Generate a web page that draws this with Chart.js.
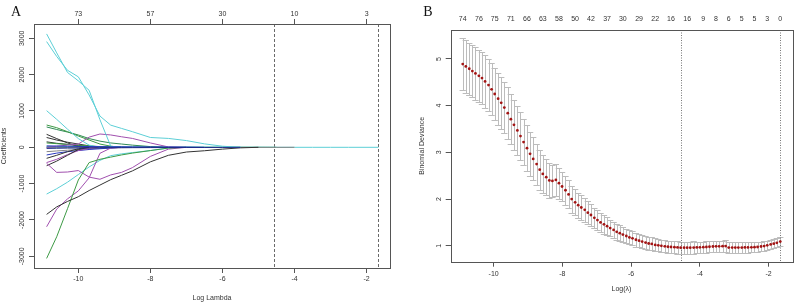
<!DOCTYPE html>
<html>
<head>
<meta charset="utf-8">
<script src="https://cdn.jsdelivr.net/npm/chart.js@4.4.1/dist/chart.umd.min.js"></script>
<style>
    html, body { margin: 0; padding: 0; background: #fff; }
    #wrapA { position: absolute; left: 0; top: 0; width: 400px; height: 307px; }
    #wrapB { position: absolute; left: 400px; top: 0; width: 398px; height: 307px; }
</style>
</head>
<body>
<div id="wrapA"><canvas id="coefChart" width="400" height="307"></canvas></div>
<div id="wrapB"><canvas id="cvChart" width="398" height="307"></canvas></div>
<script>
// ---- panel A: lasso coefficient paths ----
const logLambdaA = [-10.88, -10.6, -10.3, -10.0, -9.7, -9.4, -9.1, -8.8, -8.5, -8.0, -7.5, -7.0, -6.5, -6.0, -5.5, -5.0, -4.5, -4.0, -3.5, -3.0, -2.5, -1.67];
const xTicksA = [-10, -8, -6, -4, -2];
const dfTopA = ['73', '57', '30', '10', '3'];
const yTicksA = [-3000, -2000, -1000, 0, 1000, 2000, 3000];
const cutLinesA = [-4.56, -1.67];

// each path stops once the coefficient has shrunk to zero
const blackNeg1 = [-1846, -1640, -1490, -1360, -1190, -1040, -890, -770, -650, -400, -220, -130, -95, -50, -15, 0];
const greenNeg1 = [-3058, -2463, -1690, -900, -420, -330, -270, -210, -160, -90, -20, 0];
const purpleNeg1 = [-2187, -1700, -1420, -1200, -840, -165, -20, 0];
const purpleNeg2 = [-441, -690, -680, -640, -820, -880, -760, -690, -560, -250, -50, 0];
const cyanNeg1 = [-1287, -1140, -960, -750, -540, -360, -230, -180, -145, -90, -20, 0];
const cyanPos1 = [3121, 2600, 2060, 1830, 1570, 760, 30, 0];
const cyanPos2 = [2910, 2500, 2120, 1940, 1440, 860, 610, 520, 430, 270, 245, 185, 95, 30, 0];
const cyanPos3 = [1008, 770, 500, 240, 60, 0];
const purplePos1 = [0, 30, 60, 90, 280, 366, 340, 290, 245, 120, 10, 0];
const greenPos1 = [614, 540, 430, 310, 200, 90, 30, 0];
const greenPos2 = [560, 490, 420, 340, 240, 170, 120, 90, 60, 20, 0];
const greenPos3 = [120, 100, 80, 60, 40, 20, 10, 0];
const blackPos1 = [357, 240, 120, 20, 0];
const blackPos2 = [270, 200, 140, 90, 40, 0];
const blackPos3 = [150, 110, 80, 50, 25, 10, 0];
const blackNeg2 = [-506, -380, -220, -60, 0];
const purpleNeg3 = [-420, -330, -200, -90, -30, 0];
const blackNeg3 = [-303, -220, -120, -40, 0];
const blueNeg1 = [-211, -160, -120, -90, -60, -40, -20, 0];
const grayNeg1 = [-120, -100, -80, -60, -40, -25, -15, -10, -5, 0];
const blueBand1 = [-30, -25, -20, -20, -15, -15, -10, -10, -10, -8, -6, -5, -4, -3, 0];
const blueBand2 = [40, 35, 30, 25, 20, 20, 15, 15, 12, 10, 8, 6, 0];
const grayBand = [-10, -10, -8, -8, -8, -6, -6, -6, -5, -5, -4, -4, -3, -3, -2, -2, -1, 0];
const tealBand = [20, 18, 16, 15, 14, 12, 10, 10, 8, 8, 6, 6, 5, 5, 4, 3, 0];
const cyanBand = [0, 0, 0, 0, 0, 0, 0, 0, 0, 0, 0, 0, 0, 0, 0, 0, 0, 0, 0, 0, 0, 0];

// ---- panel B: cross-validated binomial deviance ----
const logLambdaB = [
    -10.90, -10.81, -10.71, -10.62, -10.53, -10.43, -10.34, -10.25, -10.15, -10.06,
    -9.97, -9.87, -9.78, -9.69, -9.59, -9.50, -9.41, -9.31, -9.22, -9.13,
    -9.03, -8.94, -8.85, -8.75, -8.66, -8.57, -8.47, -8.38, -8.29, -8.19,
    -8.10, -8.01, -7.91, -7.82, -7.73, -7.63, -7.54, -7.45, -7.35, -7.26,
    -7.17, -7.07, -6.98, -6.89, -6.79, -6.70, -6.61, -6.51, -6.42, -6.33,
    -6.24, -6.14, -6.05, -5.96, -5.86, -5.77, -5.68, -5.58, -5.49, -5.40,
    -5.30, -5.21, -5.12, -5.02, -4.93, -4.84, -4.74, -4.65, -4.56, -4.46,
    -4.37, -4.28, -4.18, -4.09, -4.00, -3.90, -3.81, -3.72, -3.62, -3.53,
    -3.44, -3.34, -3.25, -3.16, -3.06, -2.97, -2.88, -2.78, -2.69, -2.60,
    -2.50, -2.41, -2.32, -2.22, -2.13, -2.04, -1.94, -1.85, -1.76, -1.66
];
const cvMean = [
    4.89, 4.84, 4.79, 4.74, 4.69, 4.64, 4.59, 4.52, 4.44, 4.35,
    4.25, 4.15, 4.06, 3.96, 3.84, 3.71, 3.59, 3.47, 3.35, 3.22,
    3.09, 2.97, 2.86, 2.75, 2.63, 2.54, 2.47, 2.40, 2.39, 2.41,
    2.34, 2.27, 2.19, 2.10, 2.00, 1.93, 1.87, 1.82, 1.77, 1.71,
    1.66, 1.60, 1.55, 1.50, 1.46, 1.42, 1.38, 1.34, 1.30, 1.27,
    1.24, 1.21, 1.18, 1.16, 1.13, 1.11, 1.09, 1.07, 1.05, 1.04,
    1.02, 1.01, 1.00, 0.99, 0.98, 0.975, 0.97, 0.965, 0.96, 0.96,
    0.96, 0.96, 0.963, 0.965, 0.967, 0.97, 0.975, 0.98, 0.985, 0.99,
    0.99, 0.993, 0.995, 0.962, 0.962, 0.962, 0.962, 0.963, 0.965, 0.965,
    0.968, 0.97, 0.975, 0.985, 0.995, 1.01, 1.03, 1.045, 1.065, 1.09
];
const cvSE = [
    0.56, 0.56, 0.56, 0.56, 0.56, 0.56, 0.56, 0.56, 0.56, 0.56,
    0.56, 0.56, 0.56, 0.55, 0.55, 0.54, 0.53, 0.52, 0.51, 0.50,
    0.49, 0.47, 0.46, 0.44, 0.43, 0.41, 0.39, 0.37, 0.35, 0.34,
    0.33, 0.32, 0.31, 0.30, 0.29, 0.28, 0.27, 0.26, 0.25, 0.24,
    0.23, 0.22, 0.21, 0.20, 0.20, 0.19, 0.18, 0.18, 0.17, 0.17,
    0.16, 0.16, 0.15, 0.15, 0.15, 0.14, 0.14, 0.14, 0.14, 0.14,
    0.14, 0.13, 0.13, 0.13, 0.13, 0.13, 0.13, 0.13, 0.13, 0.13,
    0.13, 0.13, 0.13, 0.12, 0.12, 0.12, 0.12, 0.12, 0.12, 0.12,
    0.12, 0.12, 0.12, 0.11, 0.11, 0.11, 0.11, 0.11, 0.11, 0.11,
    0.11, 0.11, 0.10, 0.10, 0.10, 0.10, 0.10, 0.10, 0.10, 0.10
];
const xTicksB = [-10, -8, -6, -4, -2];
const yTicksB = [1, 2, 3, 4, 5];
const nzPosB = [-10.90, -10.43, -9.97, -9.50, -9.03, -8.57, -8.10, -7.63, -7.17, -6.70, -6.24, -5.77, -5.30, -4.84, -4.37, -3.90, -3.53, -3.16, -2.78, -2.41, -2.04, -1.66];
const nzLabelsB = ['74', '76', '75', '71', '66', '63', '58', '50', '42', '37', '30', '29', '22', '16', '16', '9', '8', '6', '5', '5', '3', '0'];
const cutLinesB = [-4.56, -1.66];

Chart.defaults.font.family = "'Liberation Sans', Arial, sans-serif";
Chart.defaults.font.size = 7;
Chart.defaults.color = '#333';

const CYAN = '#5ccfd6', GREEN = '#3d9a45', PURPLE = '#a04fae', BLACK = '#333333', BLUE = '#2838c0', DBLUE = '#1b2a8a', GRAY = '#858585', TEAL = '#3dbb98';

const pathsA = [
    [blueBand1, DBLUE], [blueBand2, BLUE], [blackNeg1, BLACK], [greenNeg1, GREEN], [purpleNeg1, PURPLE],
    [purpleNeg2, PURPLE], [cyanNeg1, CYAN], [cyanPos1, CYAN], [cyanPos2, CYAN], [cyanPos3, CYAN],
    [purplePos1, PURPLE], [greenPos1, GREEN], [greenPos2, '#2f8a55'], [greenPos3, GREEN], [blackPos1, BLACK],
    [blackPos2, BLACK], [blackPos3, BLACK], [blackNeg2, BLACK], [purpleNeg3, PURPLE], [blackNeg3, BLACK],
    [blueNeg1, BLUE], [grayNeg1, GRAY], [grayBand, GRAY], [tealBand, TEAL], [cyanBand, CYAN]
];

// box, rotated y labels, panel letter and the lambda cut lines, R style
const rPanel = {
    id: 'rPanel',
    beforeDatasetsDraw(chart, args, opts) {
        const { ctx, chartArea: a, scales } = chart;
        ctx.save();
        ctx.strokeStyle = opts.vColor;
        ctx.lineWidth = 1;
        ctx.setLineDash(opts.vDash);
        opts.vLines.forEach(v => {
            const x = Math.round(scales.x.getPixelForValue(v)) + 0.5;
            ctx.beginPath();
            ctx.moveTo(x, a.top);
            ctx.lineTo(x, a.bottom);
            ctx.stroke();
        });
        ctx.restore();
    },
    afterDraw(chart, args, opts) {
        const { ctx, chartArea: a, scales } = chart;
        ctx.save();
        ctx.strokeStyle = '#555';
        ctx.lineWidth = 1;
        ctx.strokeRect(Math.round(a.left) + 0.5, Math.round(a.top) + 0.5, Math.round(a.right - a.left), Math.round(a.bottom - a.top));
        ctx.fillStyle = '#333';
        ctx.font = "7px 'Liberation Sans', Arial, sans-serif";
        ctx.textAlign = 'center';
        ctx.textBaseline = 'middle';
        scales.y.ticks.forEach(t => {
            const y = scales.y.getPixelForValue(t.value);
            ctx.save();
            ctx.translate(a.left - opts.yLabelGap, y);
            ctx.rotate(-Math.PI / 2);
            ctx.fillText(String(t.value), 0, 0);
            ctx.restore();
        });
        ctx.fillStyle = '#111';
        ctx.font = "14px 'Liberation Serif', 'Times New Roman', serif";
        ctx.fillText(opts.letter, opts.letterX, opts.letterY);
        ctx.restore();
    }
};

// cv error bars (cvm +/- cvsd), caps as glmnet's error.bars
const cvBars = {
    id: 'cvBars',
    beforeDatasetsDraw(chart, args, opts) {
        const { ctx, scales: { x, y } } = chart;
        ctx.save();
        ctx.strokeStyle = opts.color;
        ctx.lineWidth = 1;
        logLambdaB.forEach((l, i) => {
            const px = Math.round(x.getPixelForValue(l)) + 0.5;
            const x0 = x.getPixelForValue(l - opts.cap), x1 = x.getPixelForValue(l + opts.cap);
            const yu = Math.round(y.getPixelForValue(cvMean[i] + cvSE[i])) + 0.5;
            const yl = Math.round(y.getPixelForValue(cvMean[i] - cvSE[i])) + 0.5;
            ctx.beginPath();
            ctx.moveTo(px, yu); ctx.lineTo(px, yl);
            ctx.moveTo(x0, yu); ctx.lineTo(x1, yu);
            ctx.moveTo(x0, yl); ctx.lineTo(x1, yl);
            ctx.stroke();
        });
        ctx.restore();
    }
};

const tickGrid = { drawOnChartArea: false, tickLength: 5, color: '#555' };
const fixTicks = list => s => { s.ticks = list.map(v => ({ value: v })); };

new Chart(document.getElementById('coefChart'), {
    type: 'line',
    data: {
        datasets: pathsA.map(([vals, color]) => ({
            data: vals.map((v, i) => ({ x: logLambdaA[i], y: v })),
            borderColor: color,
            borderWidth: 1,
            pointRadius: 0,
            tension: 0,
            fill: false
        }))
    },
    options: {
        responsive: false,
        animation: false,
        devicePixelRatio: 1,
        layout: { padding: { left: 0, right: 10, top: 0, bottom: 0 } },
        plugins: {
            legend: { display: false },
            tooltip: { enabled: false },
            rPanel: { letter: 'A', letterX: 16, letterY: 12, vLines: cutLinesA, vDash: [3, 2], vColor: '#6a6a6a', yLabelGap: 12.3 }
        },
        scales: {
            x: {
                type: 'linear', min: -11.23, max: -1.35,
                afterBuildTicks: fixTicks(xTicksA),
                afterFit: s => { s.height = 39; },
                grid: tickGrid, border: { display: false },
                ticks: { padding: 2.3, maxRotation: 0, autoSkip: false, callback: v => String(v) },
                title: { display: true, text: 'Log Lambda', padding: { top: 0, bottom: 4.6 } }
            },
            xTop: {
                type: 'linear', axis: 'x', position: 'top', min: -11.23, max: -1.35,
                afterBuildTicks: fixTicks(xTicksA),
                afterFit: s => { s.height = 24; },
                grid: tickGrid, border: { display: false },
                ticks: { padding: 0.6, maxRotation: 0, autoSkip: false, callback: (v, i) => dfTopA[i] }
            },
            y: {
                type: 'linear', min: -3322, max: 3394,
                afterBuildTicks: fixTicks(yTicksA),
                afterFit: s => { s.width = 34; },
                grid: tickGrid, border: { display: false },
                ticks: { display: false },
                title: { display: true, text: 'Coefficients', padding: { top: 0, bottom: 0 } }
            }
        }
    },
    plugins: [rPanel]
});

new Chart(document.getElementById('cvChart'), {
    type: 'line',
    data: {
        datasets: [{
            data: logLambdaB.map((l, i) => ({ x: l, y: cvMean[i] })),
            showLine: false,
            pointRadius: 1.4,
            pointBorderWidth: 0,
            pointBackgroundColor: '#a31414'
        }]
    },
    options: {
        responsive: false,
        animation: false,
        devicePixelRatio: 1,
        layout: { padding: { left: 0, right: 5.7, top: 0, bottom: 0 } },
        plugins: {
            legend: { display: false },
            tooltip: { enabled: false },
            rPanel: { letter: 'B', letterX: 28, letterY: 12.5, vLines: cutLinesB, vDash: [1, 1.5], vColor: '#777', yLabelGap: 11.4 },
            cvBars: { cap: 0.092, color: '#bcbcbc' }
        },
        scales: {
            x: {
                type: 'linear', min: -11.25, max: -1.31,
                afterBuildTicks: fixTicks(xTicksB),
                afterFit: s => { s.height = 45.3; },
                grid: tickGrid, border: { display: false },
                ticks: { padding: 2.9, maxRotation: 0, autoSkip: false, callback: v => String(v) },
                title: { display: true, text: 'Log(\u03bb)', padding: { top: 0, bottom: 13.9 } }
            },
            xTop: {
                type: 'linear', axis: 'x', position: 'top', min: -11.25, max: -1.31,
                afterBuildTicks: fixTicks(nzPosB),
                afterFit: s => { s.height = 30; },
                grid: { drawOnChartArea: false, drawTicks: false }, border: { display: false },
                ticks: { padding: 6.3, maxRotation: 0, autoSkip: false, callback: (v, i) => nzLabelsB[i] }
            },
            y: {
                type: 'linear', min: 0.66, max: 5.62,
                afterBuildTicks: fixTicks(yTicksB),
                afterFit: s => { s.width = 50.7; },
                grid: tickGrid, border: { display: false },
                ticks: { display: false },
                title: { display: true, text: 'Binomial Deviance', padding: { top: 17.9, bottom: 0 } }
            }
        }
    },
    plugins: [cvBars, rPanel]
});
</script>
</body>
</html>
